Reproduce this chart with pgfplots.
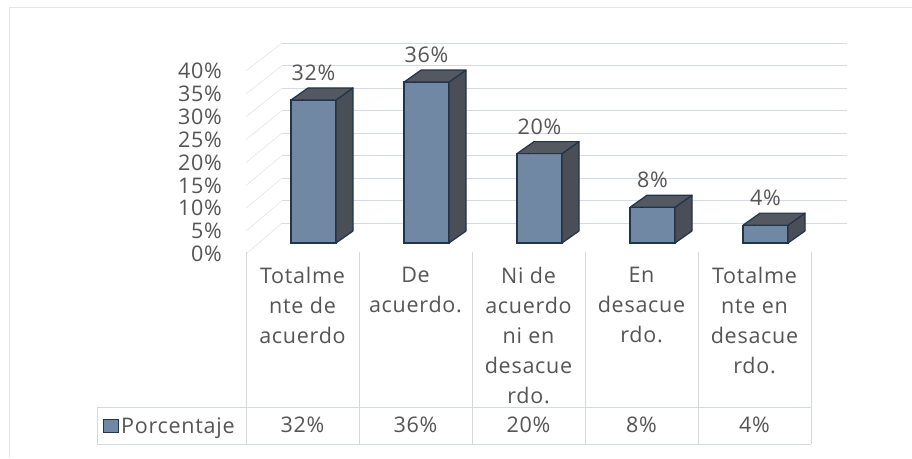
\documentclass[border=0pt]{standalone}
\usepackage{pgfplots}
\pgfplotsset{compat=1.18}
\usepackage{pgfplotstable}
\usepackage{fontspec}
\setmainfont{Open Sans}[LetterSpace=3.5]
\definecolor{txt}{HTML}{555555}
\definecolor{front}{HTML}{7088A4}
\definecolor{side}{HTML}{4A4E56}
\definecolor{topc}{HTML}{545860}
\definecolor{edge}{HTML}{22344A}
\definecolor{gridc}{HTML}{D5DAE4}
\definecolor{tline}{HTML}{D3D7E0}
\newcommand{\lab}{\fontsize{21.5pt}{30pt}\selectfont}

\pgfplotstableread{
idx v
0 32
1 36
2 20
3 8
4 4
}\data

\begin{document}
\begin{tikzpicture}
\useasboundingbox (0pt,0pt) rectangle (912pt,458pt);
\fill[white] (0pt,0pt) rectangle (912pt,458pt);
% faint frame (scan)
\draw[gridc!70, line width=0.6pt] (9pt,0pt) -- (9pt,451pt) -- (912pt,451pt);
% side wall lines
\foreach \v in {0,5,...,40} {
  \draw[gridc!80, line width=0.5pt] (246pt,{204pt+4.575pt*\v}) -- (282pt,{235pt+4.5pt*\v});
}
% data table lines
\begin{scope}[tline, line width=0.7pt]
\foreach \x in {246,359,472,585,698,811} \draw (\x pt,206pt) -- (\x pt,14pt);
\draw (97pt,51pt) -- (811pt,51pt);
\draw (97pt,14pt) -- (811pt,14pt);
\draw (97pt,51pt) -- (97pt,14pt);
\end{scope}

% back wall grid
\begin{axis}[at={(282pt,235pt)}, anchor=south west, scale only axis,
  width=565pt, height=180pt, xmin=0, xmax=1, ymin=0, ymax=40,
  ytick={0,5,...,40}, xtick=\empty, yticklabels={},
  ymajorgrids, grid style={gridc, line width=0.6pt},
  axis line style={draw=none}, major tick length=0pt]
\addplot[draw=none] coordinates {(0,0)};
\end{axis}

% y tick labels (side wall front edge)
\begin{axis}[at={(246pt,204pt)}, anchor=south west, scale only axis,
  width=36pt, height=183pt, xmin=0, xmax=1, ymin=0, ymax=40,
  ytick={0,5,...,40}, xtick=\empty,
  axis line style={draw=none}, major tick length=0pt,
  /pgf/number format/assume math mode=true,
  yticklabel={\pgfmathprintnumber{\tick}\%},
  yticklabel style={anchor=east, inner sep=0pt, xshift=-24pt, font=\lab, text=txt}]
\addplot[draw=none] coordinates {(0,0)};
\end{axis}

% bars and table text
\begin{axis}[at={(246pt,215pt)}, anchor=south west, scale only axis,
  width=565pt, height=201.15pt, xmin=-0.5, xmax=4.5, ymin=0, ymax=45,
  clip=false, axis line style={draw=none}, major tick length=0pt,
  ytick=\empty, xtick={0,...,4},
  xticklabels={{Totalme\\nte de\\acuerdo},{De\\acuerdo.},{Ni de\\acuerdo\\ni en\\desacue\\rdo.},{En\\desacue\\rdo.},{Totalme\\nte en\\desacue\\rdo.}},
  xticklabel style={align=center, anchor=north, inner sep=0pt, yshift=-24pt, font=\lab, text=txt},
  legend style={at={(-0.2532,-0.9098)}, anchor=west, draw=none, fill=none,
    inner sep=0pt, font=\lab, text=txt},
  legend image code/.code={\draw[fill=front, draw=edge, line width=1pt] (0pt,-6pt) rectangle (15pt,7pt);},
]
% depth faces (top and side) drawn from each value
\addplot[forget plot, scatter, only marks, mark=*, mark size=0.01pt,
  mark options={draw=none, fill=none},
  visualization depends on={rawy \as \val},
  scatter/@pre marker code/.code={%
    \filldraw[fill=side, draw=edge, line width=1.2pt, line join=round]
      (33.5pt,0pt) -- (50.5pt,12pt) -- (50.5pt,{12pt-\val*4.47pt}) -- (33.5pt,{-\val*4.47pt}) -- cycle;
    \filldraw[fill=topc, draw=edge, line width=1.2pt, line join=round]
      (-11.5pt,0pt) -- (33.5pt,0pt) -- (50.5pt,12pt) -- (5.5pt,12pt) -- cycle;
  },
  scatter/@post marker code/.code={},
] table[x=idx, y=v] {\data};
% front faces
\addplot[ybar, bar width=45pt, bar shift=11pt, fill=front, draw=edge, line width=1.2pt,
  nodes near coords={\pgfmathprintnumber{\pgfplotspointmeta}\%},
  nodes near coords style={anchor=center, xshift=11pt, yshift=27pt, font=\lab, text=txt},
  /pgf/number format/assume math mode=true,
] table[x=idx, y=v] {\data};
\addlegendentry{Porcentaje}
% value row of the data table
\addplot[forget plot, draw=none, mark=none,
  point meta=explicit symbolic,
  nodes near coords={\pgfplotspointmeta\%},
  nodes near coords style={anchor=center, yshift=-182pt, font=\lab, text=txt},
] table[x=idx, y expr=0, meta=v] {\data};
\end{axis}
\end{tikzpicture}
\end{document}
